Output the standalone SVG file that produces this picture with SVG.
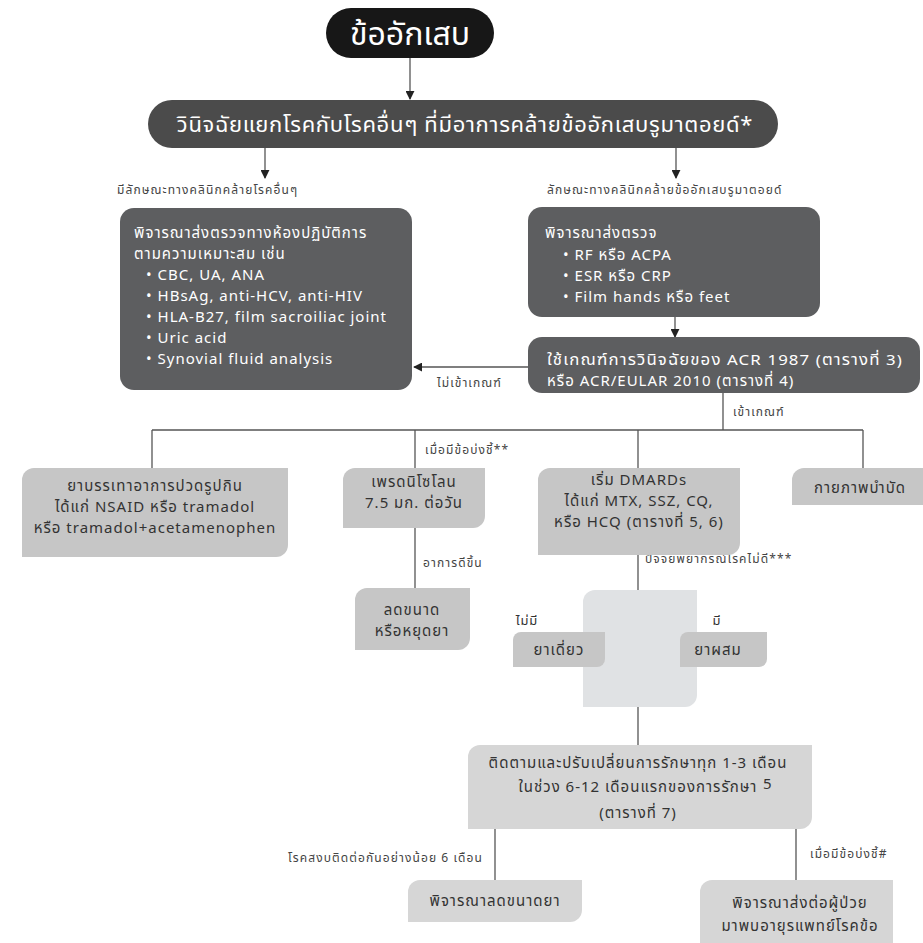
<svg xmlns="http://www.w3.org/2000/svg" width="923" height="943" viewBox="0 0 923 943">
<defs>
<marker id="ah" viewBox="0 0 10 10" refX="9" refY="5" markerWidth="9" markerHeight="9" markerUnits="userSpaceOnUse" orient="auto">
<path d="M0,0 L10,5 L0,10 Z" fill="#222"/>
</marker>
<style>
text{font-family:"Noto Sans Thai","Noto Sans","DejaVu Sans",sans-serif;}
.w{fill:#ffffff;font-size:15px;letter-spacing:1px;}
.d{fill:#333333;font-size:15px;letter-spacing:1px;}
.c{text-anchor:middle;}
.lb{fill:#444444;font-size:12px;letter-spacing:1.1px;}
.lb2{fill:#333333;font-size:13px;letter-spacing:0.8px;text-anchor:middle;}
.dark{fill:#5d5e60;}
.lg{fill:#c6c6c6;}
.lg2{fill:#d6d6d6;}
.conn line{stroke:#555;stroke-width:1.3;fill:none;}
.arr{marker-end:url(#ah);}
</style>
</defs>
<rect width="923" height="943" fill="#ffffff"/>

<g class="conn" id="connectors">
<line class="arr" x1="410" y1="58" x2="410" y2="99"/>
<line class="arr" x1="265" y1="148" x2="265" y2="178"/>
<line class="arr" x1="676" y1="148" x2="676" y2="178"/>
<line class="arr" x1="675" y1="317" x2="675" y2="337"/>
<line class="arr" x1="528" y1="367" x2="414" y2="367"/>
<line x1="723" y1="393" x2="723" y2="430"/>
<line x1="152" y1="430" x2="863" y2="430"/>
<line x1="152" y1="430" x2="152" y2="468"/>
<line x1="415" y1="430" x2="415" y2="468"/>
<line x1="638" y1="430" x2="638" y2="468"/>
<line x1="863" y1="430" x2="863" y2="468"/>
<line x1="415" y1="528" x2="415" y2="588"/>
<line x1="638" y1="555" x2="638" y2="590"/>
<line x1="638" y1="707" x2="638" y2="745"/>
<line x1="495" y1="829" x2="495" y2="880"/>
<line x1="796" y1="829" x2="796" y2="880"/>
</g>

<g id="labels">
<text class="lb" x="117" y="194">มีลักษณะทางคลินิกคล้ายโรคอื่นๆ</text>
<text class="lb" x="547" y="194">ลักษณะทางคลินิกคล้ายข้ออักเสบรูมาตอยด์</text>
<text class="lb" x="437" y="387">ไม่เข้าเกณฑ์</text>
<text class="lb" x="733" y="416">เข้าเกณฑ์</text>
<text class="lb" x="425" y="454">เมื่อมีข้อบ่งชี้**</text>
<text class="lb" x="423" y="567">อาการดีขึ้น</text>
<text class="lb" x="645" y="563">ปัจจัยพยากรณ์โรคไม่ดี***</text>
<text class="lb2" x="527" y="625">ไม่มี</text>
<text class="lb2" x="717" y="625">มี</text>
<text class="lb" x="483" y="862" text-anchor="end">โรคสงบติดต่อกันอย่างน้อย 6 เดือน</text>
<text class="lb" x="810" y="858">เมื่อมีข้อบ่งชี้#</text>
</g>

<g id="n-title">
<rect x="326" y="8" width="168" height="50" rx="25" fill="#171717"/>
<text class="c" x="410" y="45" fill="#ffffff" font-size="32">ข้ออักเสบ</text>
</g>

<g id="n-banner">
<rect x="148" y="100" width="630" height="48" rx="24" fill="#4b4b4b"/>
<text class="c" x="465" y="132" fill="#ffffff" font-size="22" letter-spacing="0.7">วินิจฉัยแยกโรคกับโรคอื่นๆ ที่มีอาการคล้ายข้ออักเสบรูมาตอยด์*</text>
</g>

<g id="n-lab-other">
<rect class="dark" x="120" y="208" width="292" height="182" rx="14"/>
<text class="w" x="134" y="238">พิจารณาส่งตรวจทางห้องปฏิบัติการ</text>
<text class="w" x="134" y="259">ตามความเหมาะสม เช่น</text>
<text class="w" x="146" y="280">• CBC, UA, ANA</text>
<text class="w" x="146" y="301">• HBsAg, anti-HCV, anti-HIV</text>
<text class="w" x="146" y="322">• HLA-B27, film sacroiliac joint</text>
<text class="w" x="146" y="343">• Uric acid</text>
<text class="w" x="146" y="364">• Synovial fluid analysis</text>
</g>

<g id="n-lab-ra">
<rect class="dark" x="528" y="207" width="292" height="110" rx="14"/>
<text class="w" x="545" y="238">พิจารณาส่งตรวจ</text>
<text class="w" x="563" y="260">• RF หรือ ACPA</text>
<text class="w" x="563" y="281">• ESR หรือ CRP</text>
<text class="w" x="563" y="302">• Film hands หรือ feet</text>
</g>

<g id="n-acr">
<rect class="dark" x="528" y="337" width="392" height="56" rx="14"/>
<text class="w" x="547" y="365" textLength="356" lengthAdjust="spacingAndGlyphs">ใช้เกณฑ์การวินิจฉัยของ ACR 1987 (ตารางที่ 3)</text>
<text class="w" x="547" y="386">หรือ ACR/EULAR 2010 (ตารางที่ 4)</text>
</g>

<g id="n-analgesic">
<path class="lg" d="M34,468 H288 V545 A12,12 0 0 1 276,557 H22 V480 A12,12 0 0 1 34,468 Z"/>
<text class="d c" x="155" y="491">ยาบรรเทาอาการปวดรูปกิน</text>
<text class="d c" x="155" y="512">ได้แก่ NSAID หรือ tramadol</text>
<text class="d c" x="155" y="533">หรือ tramadol+acetamenophen</text>
</g>

<g id="n-pred">
<path class="lg" d="M355,468 H485 V516 A12,12 0 0 1 473,528 H343 V480 A12,12 0 0 1 355,468 Z"/>
<text class="d c" x="414" y="487">เพรดนิโซโลน</text>
<text class="d c" x="414" y="508">7.5 มก. ต่อวัน</text>
</g>

<g id="n-dmards">
<path class="lg" d="M550,468 H740 V543 A12,12 0 0 1 728,555 H538 V480 A12,12 0 0 1 550,468 Z"/>
<text class="d c" x="639" y="485">เริ่ม DMARDs</text>
<text class="d c" x="639" y="506">ได้แก่ MTX, SSZ, CQ,</text>
<text class="d c" x="639" y="527">หรือ HCQ (ตารางที่ 5, 6)</text>
</g>

<g id="n-physio">
<path class="lg" d="M804,468 H923 V505 H792 V480 A12,12 0 0 1 804,468 Z"/>
<text class="d c" x="860" y="493">กายภาพบำบัด</text>
</g>

<g id="n-taper">
<path class="lg" d="M367,588 H470 V638 A12,12 0 0 1 458,650 H355 V600 A12,12 0 0 1 367,588 Z"/>
<text class="d c" x="412" y="615">ลดขนาด</text>
<text class="d c" x="412" y="636">หรือหยุดยา</text>
</g>

<g id="n-prognosis">
<path fill="#e0e2e4" d="M595,590 H697 V695 A12,12 0 0 1 685,707 H583 V602 A12,12 0 0 1 595,590 Z"/>
</g>

<g id="n-mono">
<path class="lg" d="M521,632 H605 V659 A8,8 0 0 1 597,667 H513 V640 A8,8 0 0 1 521,632 Z"/>
<text class="d c" x="559" y="655">ยาเดี่ยว</text>
</g>

<g id="n-combo">
<path class="lg" d="M688,632 H767 V659 A8,8 0 0 1 759,667 H680 V640 A8,8 0 0 1 688,632 Z"/>
<text class="d c" x="718" y="655">ยาผสม</text>
</g>

<g id="n-follow">
<path class="lg2" d="M480,745 H812 V817 A12,12 0 0 1 800,829 H468 V757 A12,12 0 0 1 480,745 Z"/>
<text class="d c" x="638" y="768">ติดตามและปรับเปลี่ยนการรักษาทุก 1-3 เดือน</text>
<text class="d c" x="638" y="792">ในช่วง 6-12 เดือนแรกของการรักษา</text>
<text class="d" x="763" y="789" font-size="9" letter-spacing="0">5</text>
<text class="d c" x="638" y="818">(ตารางที่ 7)</text>
</g>

<g id="n-reduce">
<path class="lg2" d="M420,880 H582 V910 A12,12 0 0 1 570,922 H408 V892 A12,12 0 0 1 420,880 Z"/>
<text class="d c" x="495" y="906">พิจารณาลดขนาดยา</text>
</g>

<g id="n-refer">
<path class="lg2" d="M712,880 H893 V943 H700 V892 A12,12 0 0 1 712,880 Z"/>
<text class="d c" x="800" y="908">พิจารณาส่งต่อผู้ป่วย</text>
<text class="d c" x="800" y="931">มาพบอายุรแพทย์โรคข้อ</text>
</g>
</svg>
